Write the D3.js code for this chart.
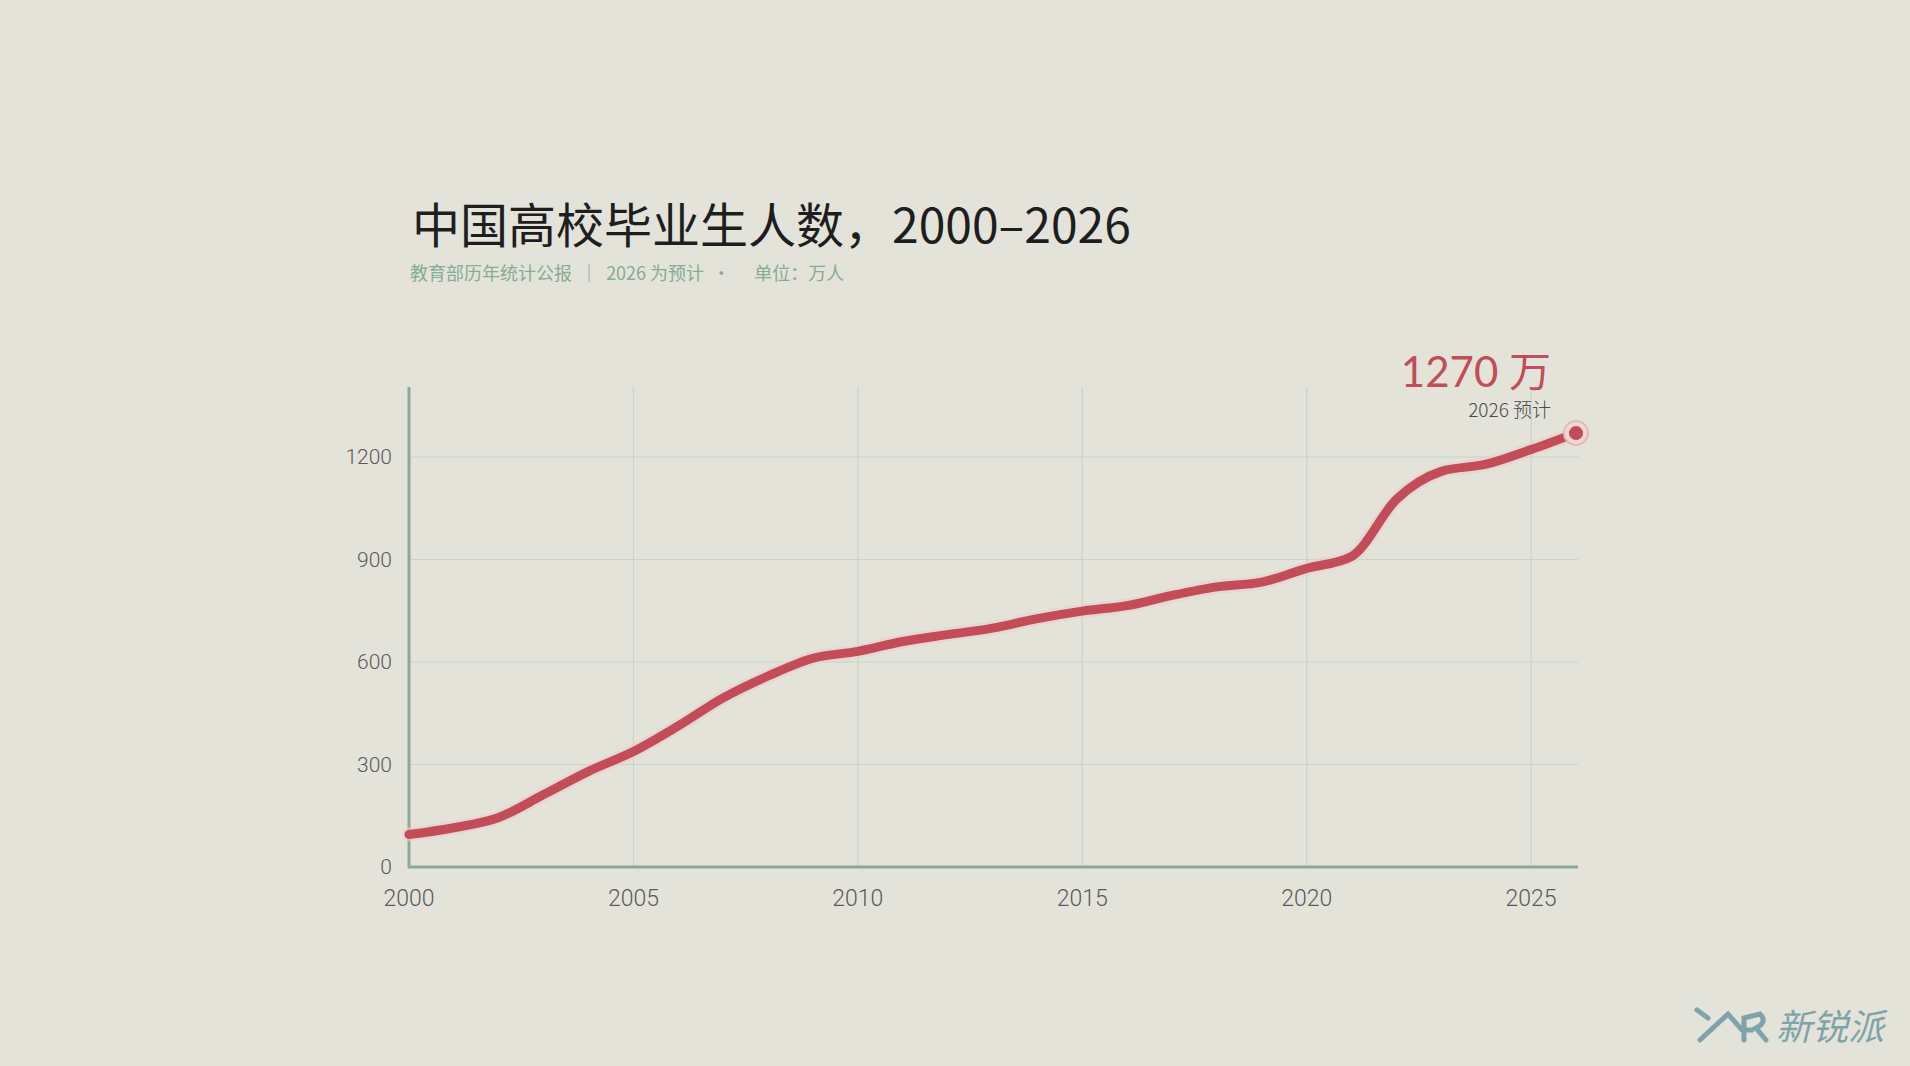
<!DOCTYPE html>
<html lang="zh">
<head>
<meta charset="UTF-8">
<title>中国高校毕业生人数</title>
<script src="https://cdn.jsdelivr.net/npm/d3@7"></script>
<style>
  html, body { margin: 0; padding: 0; background: #e4e3da; }
  svg { display: block; font-family: "Noto Sans CJK SC", "Noto Sans", sans-serif; }
</style>
</head>
<body>
<svg id="chart" width="1910" height="1066"></svg>
<script>
const years = d3.range(2000, 2027)
const graduates = [95, 115, 145, 212, 280, 338, 413, 495, 559, 611, 631, 660, 680, 699, 727, 749, 765, 795, 820, 834, 874, 909, 1076, 1158, 1179, 1222, 1270]
const yTicks = [0, 300, 600, 900, 1200]
const xTicks = [2000, 2005, 2010, 2015, 2020, 2025]

const svg = d3.select('#chart')
const margin = { left: 409, right: 1578, top: 387, bottom: 867 }

const x = d3.scaleLinear().domain([2000, 2026]).range([margin.left, 1576])
const y = d3.scaleLinear().domain([0, 1200]).range([margin.bottom, 457])

svg.append('rect').attr('width', 1910).attr('height', 1066).attr('fill', '#e4e3da')

// title
svg.append('text').attr('x', 412).attr('y', 243)
  .attr('font-size', 48).attr('font-weight', 400).attr('fill', '#1e1e1e')
  .text('中国高校毕业生人数，2000–2026')
svg.append('text').attr('x', 410).attr('y', 280)
  .attr('font-size', 18).attr('fill', '#86ac94').attr('xml:space', 'preserve')
  .text('教育部历年统计公报  ｜  2026 为预计  ·      单位：万人')

// grid
const grid = svg.append('g').attr('stroke', '#c2d6c9').attr('stroke-width', 1.2)
grid.selectAll('line.h').data(yTicks.slice(1)).enter().append('line')
  .attr('x1', margin.left).attr('x2', margin.right)
  .attr('y1', d => y(d)).attr('y2', d => y(d))
grid.selectAll('line.v').data(xTicks.slice(1)).enter().append('line')
  .attr('x1', d => x(d)).attr('x2', d => x(d))
  .attr('y1', margin.top).attr('y2', margin.bottom)

// axes
svg.append('line').attr('x1', margin.left).attr('x2', margin.left)
  .attr('y1', margin.top).attr('y2', margin.bottom + 1)
  .attr('stroke', '#8ba898').attr('stroke-width', 3)
svg.append('line').attr('x1', margin.left - 1).attr('x2', margin.right)
  .attr('y1', margin.bottom).attr('y2', margin.bottom)
  .attr('stroke', '#8ba898').attr('stroke-width', 3)

svg.selectAll('text.yt').data(yTicks).enter().append('text')
  .attr('x', 392).attr('y', d => y(d) + 7)
  .attr('text-anchor', 'end').attr('font-size', 21).attr('fill', '#5a5a5a')
  .attr('font-family', 'Roboto, sans-serif').attr('font-weight', 300)
  .text(d => d)
svg.selectAll('text.xt').data(xTicks).enter().append('text')
  .attr('x', d => x(d)).attr('y', 906)
  .attr('text-anchor', 'middle').attr('font-size', 23).attr('fill', '#5a5a5a')
  .attr('font-family', 'Roboto, sans-serif').attr('font-weight', 300)
  .text(d => d)

// line
const line = d3.line().x((d, i) => x(years[i])).y(d => y(d)).curve(d3.curveMonotoneX)
svg.append('path').datum(graduates).attr('d', line)
  .attr('fill', 'none').attr('stroke', '#e8cfcc').attr('stroke-width', 14)
  .attr('stroke-linecap', 'round').attr('opacity', 0.6)
svg.append('path').datum(graduates).attr('d', line)
  .attr('fill', 'none').attr('stroke', '#c24d59').attr('stroke-width', 9)
  .attr('stroke-linecap', 'round').attr('stroke-linejoin', 'round')

// end point
const last = graduates.length - 1
svg.append('circle').attr('cx', x(years[last])).attr('cy', y(graduates[last]))
  .attr('r', 12).attr('fill', '#f0d6d6').attr('stroke', '#e2b9bb').attr('stroke-width', 2)
svg.append('circle').attr('cx', x(years[last])).attr('cy', y(graduates[last]))
  .attr('r', 7).attr('fill', '#c24d59')

// annotation
svg.append('text').attr('x', 1551).attr('y', 387).attr('text-anchor', 'end')
  .attr('font-size', 42).attr('fill', '#c24d59')
  .attr('font-family', 'Lato, "Noto Sans CJK SC", sans-serif')
  .text(graduates[last] + ' 万')
svg.append('text').attr('x', 1551).attr('y', 417).attr('text-anchor', 'end')
  .attr('font-size', 19).attr('fill', '#4a4a4a').attr('font-weight', 300)
  .text(years[last] + ' 预计')

// watermark
const logo = svg.append('g').attr('fill', 'none').attr('stroke', '#7ea4aa')
  .attr('stroke-width', 5).attr('stroke-linecap', 'round')
logo.append('path').attr('d', 'M1697,1010 L1708,1018 M1700,1040 L1728,1014 L1742,1030 L1752,1030 M1744,1040 L1744,1018 L1760,1014 Q1768,1022 1756,1028 L1766,1040')
svg.append('text').attr('x', 1776).attr('y', 1040)
  .attr('font-size', 36).attr('font-style', 'italic').attr('fill', '#7ea4aa')
  .text('新锐派')
</script>
</body>
</html>
